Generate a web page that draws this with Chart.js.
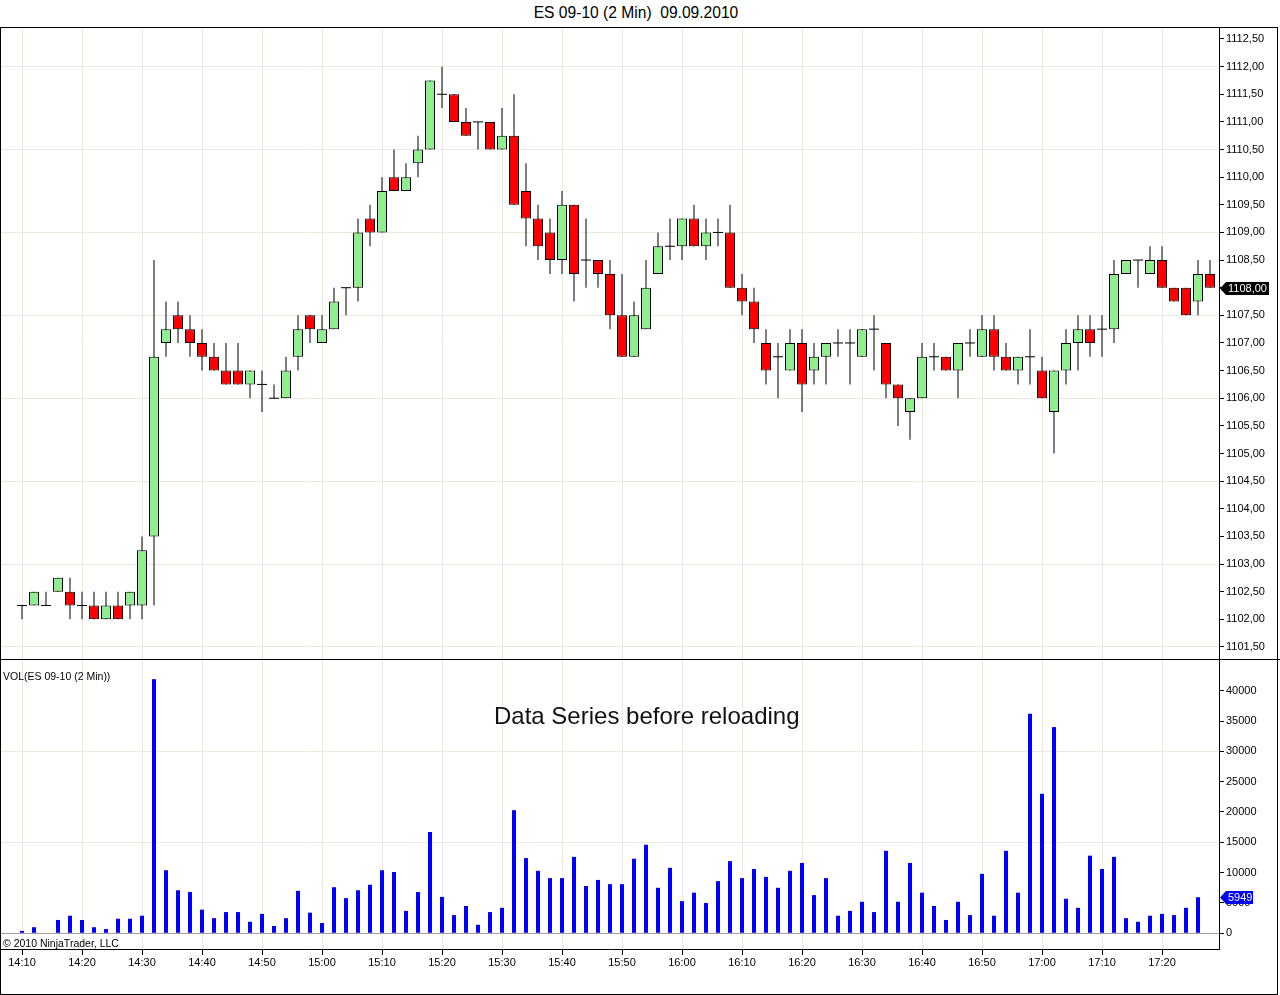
<!DOCTYPE html>
<html>
<head>
<meta charset="utf-8">
<script src="https://cdn.jsdelivr.net/npm/chart.js@4.4.1/dist/chart.umd.min.js"></script>
<style>
  body { margin: 0; background: #fff; width: 1280px; height: 995px; position: relative; overflow: hidden; font-family: Arial, "Liberation Sans", sans-serif; }
  canvas { position: absolute; }
  .txt { position: absolute; white-space: nowrap; color: #000; }
  .line { position: absolute; background: #000; }
</style>
</head>
<body>
<div class="txt" style="left:0;width:1272px;text-align:center;top:5px;font-size:15.6px;line-height:15.6px;">ES 09-10 (2 Min)&nbsp; 09.09.2010</div>
<canvas id="price" width="1279" height="631" style="left:1px;top:28px;"></canvas>
<canvas id="volume" width="1279" height="334" style="left:1px;top:660px;"></canvas>
<div class="line" style="left:0;top:659px;width:1280px;height:1px;"></div>
<div style="position:absolute;left:0;top:27px;width:1278px;height:968px;box-sizing:border-box;border:1px solid #000;pointer-events:none;"></div>
<div class="txt" style="left:3px;top:671px;font-size:10.5px;line-height:10.5px;">VOL(ES 09-10 (2 Min))</div>
<div class="txt" style="left:494px;top:704px;font-size:24px;line-height:24px;color:#111;">Data Series before reloading</div>
<div class="txt" style="left:3px;top:938px;font-size:10.5px;line-height:10.5px;">© 2010 NinjaTrader, LLC</div>
<script>
// 2 min bars, 14:10 .. 17:28
const opens = [
  1102.25, 1102.25, 1102.25, 1102.5, 1102.5, 1102.25, 1102.25, 1102.0, 1102.25, 1102.25,
  1102.25, 1103.5, 1107.0, 1107.5, 1107.25, 1107.0, 1106.75, 1106.5, 1106.5, 1106.25,
  1106.25, 1106.0, 1106.0, 1106.75, 1107.5, 1107.0, 1107.25, 1108.0, 1108.0, 1109.25,
  1109.0, 1110.0, 1109.75, 1110.25, 1110.5, 1111.5, 1111.5, 1111.0, 1111.0, 1111.0,
  1110.5, 1110.75, 1109.75, 1109.25, 1109.0, 1108.5, 1109.5, 1108.5, 1108.5, 1108.25,
  1107.5, 1106.75, 1107.25, 1108.25, 1108.75, 1108.75, 1109.25, 1108.75, 1109.0, 1109.0,
  1108.0, 1107.75, 1107.0, 1106.75, 1106.5, 1107.0, 1106.5, 1106.75, 1107.0, 1107.0,
  1106.75, 1107.25, 1107.0, 1106.25, 1105.75, 1106.0, 1106.75, 1106.75, 1106.5, 1107.0,
  1106.75, 1107.25, 1106.75, 1106.5, 1106.75, 1106.5, 1105.75, 1106.5, 1107.0, 1107.25,
  1107.25, 1107.25, 1108.25, 1108.5, 1108.25, 1108.5, 1108.0, 1108.0, 1107.75, 1108.25
];
const highs = [
  1102.25, 1102.5, 1102.5, 1102.75, 1102.75, 1102.5, 1102.5, 1102.5, 1102.5, 1102.5,
  1103.5, 1108.5, 1107.75, 1107.75, 1107.5, 1107.25, 1107.0, 1107.0, 1107.0, 1106.5,
  1106.5, 1106.25, 1106.75, 1107.5, 1107.5, 1107.5, 1108.0, 1108.0, 1109.25, 1109.5,
  1110.0, 1110.5, 1110.25, 1110.75, 1111.75, 1112.0, 1111.5, 1111.25, 1111.0, 1111.0,
  1111.25, 1111.5, 1110.25, 1109.5, 1109.25, 1109.75, 1109.5, 1109.25, 1108.5, 1108.5,
  1108.25, 1107.75, 1108.5, 1109.0, 1109.25, 1109.25, 1109.5, 1109.25, 1109.25, 1109.5,
  1108.25, 1108.0, 1107.25, 1107.0, 1107.25, 1107.25, 1107.0, 1107.0, 1107.25, 1107.25,
  1107.25, 1107.5, 1107.0, 1106.25, 1106.0, 1107.0, 1107.0, 1106.75, 1107.0, 1107.25,
  1107.5, 1107.5, 1107.0, 1106.75, 1107.25, 1106.75, 1106.5, 1107.25, 1107.5, 1107.5,
  1107.5, 1108.5, 1108.5, 1108.5, 1108.75, 1108.75, 1108.0, 1108.0, 1108.5, 1108.5
];
const lows = [
  1102.0, 1102.25, 1102.25, 1102.5, 1102.0, 1102.0, 1102.0, 1102.0, 1102.0, 1102.0,
  1102.0, 1102.25, 1106.75, 1107.0, 1106.75, 1106.5, 1106.5, 1106.25, 1106.25, 1106.0,
  1105.75, 1106.0, 1106.0, 1106.5, 1107.0, 1107.0, 1107.25, 1107.5, 1107.75, 1108.75,
  1109.0, 1109.75, 1109.75, 1110.0, 1110.5, 1111.25, 1111.0, 1110.75, 1110.5, 1110.5,
  1110.5, 1109.5, 1108.75, 1108.5, 1108.25, 1108.25, 1107.75, 1108.0, 1108.0, 1107.25,
  1106.75, 1106.75, 1107.25, 1108.25, 1108.5, 1108.5, 1108.75, 1108.5, 1108.75, 1108.0,
  1107.5, 1107.0, 1106.25, 1106.0, 1106.5, 1105.75, 1106.25, 1106.25, 1106.75, 1106.25,
  1106.75, 1106.5, 1106.0, 1105.5, 1105.25, 1106.0, 1106.5, 1106.5, 1106.0, 1106.75,
  1106.75, 1106.5, 1106.5, 1106.25, 1106.25, 1106.0, 1105.0, 1106.25, 1106.5, 1106.75,
  1106.75, 1107.0, 1108.25, 1108.0, 1108.25, 1108.0, 1107.75, 1107.5, 1107.5, 1108.0
];
const closes = [
  1102.25, 1102.5, 1102.25, 1102.75, 1102.25, 1102.25, 1102.0, 1102.25, 1102.0, 1102.5,
  1103.25, 1106.75, 1107.25, 1107.25, 1107.0, 1106.75, 1106.5, 1106.25, 1106.25, 1106.5,
  1106.25, 1106.0, 1106.5, 1107.25, 1107.25, 1107.25, 1107.75, 1108.0, 1109.0, 1109.0,
  1109.75, 1109.75, 1110.0, 1110.5, 1111.75, 1111.5, 1111.0, 1110.75, 1111.0, 1110.5,
  1110.75, 1109.5, 1109.25, 1108.75, 1108.5, 1109.5, 1108.25, 1108.5, 1108.25, 1107.5,
  1106.75, 1107.5, 1108.0, 1108.75, 1108.75, 1109.25, 1108.75, 1109.0, 1109.0, 1108.0,
  1107.75, 1107.25, 1106.5, 1106.75, 1107.0, 1106.25, 1106.75, 1107.0, 1107.0, 1107.0,
  1107.25, 1107.25, 1106.25, 1106.0, 1106.0, 1106.75, 1106.75, 1106.5, 1107.0, 1107.0,
  1107.25, 1106.75, 1106.5, 1106.75, 1106.75, 1106.0, 1106.5, 1107.0, 1107.25, 1107.0,
  1107.25, 1108.25, 1108.5, 1108.5, 1108.5, 1108.0, 1107.75, 1107.5, 1108.25, 1108.0
];
// last bar has no volume yet (before reloading)
const volumes = [
  400, 1000, 0, 2200, 2900, 2200, 1000, 700, 2400, 2400,
  2900, 41900, 10400, 7100, 6800, 3900, 2500, 3500, 3500, 1900,
  3200, 1200, 2500, 7000, 3400, 1700, 7600, 5800, 7100, 8000,
  10400, 10100, 3700, 6800, 16700, 6000, 3000, 4500, 1400, 3500,
  4200, 20300, 12400, 10300, 9100, 9100, 12600, 7800, 8800, 8100,
  8100, 12300, 14600, 7500, 10800, 5300, 6700, 5000, 8600, 11900,
  9100, 10600, 9300, 7500, 10300, 11600, 6300, 9100, 2900, 3700,
  5200, 3500, 13600, 5200, 11600, 6700, 4500, 2200, 5200, 3000,
  9800, 2900, 13600, 6700, 36200, 23000, 34000, 5700, 4200, 12800,
  10600, 12600, 2500, 1900, 2900, 3200, 3000, 4200, 5949, null
];
const timeLabels = ['14:10', '14:20', '14:30', '14:40', '14:50', '15:00', '15:10', '15:20', '15:30', '15:40',
  '15:50', '16:00', '16:10', '16:20', '16:30', '16:40', '16:50', '17:00', '17:10', '17:20'];
const priceTicks = [1101.5, 1102, 1102.5, 1103, 1103.5, 1104, 1104.5, 1105, 1105.5, 1106, 1106.5, 1107,
  1107.5, 1108, 1108.5, 1109, 1109.5, 1110, 1110.5, 1111, 1111.5, 1112, 1112.5];
const volumeTicks = [0, 5000, 10000, 15000, 20000, 25000, 30000, 35000, 40000];

const GRID = '#ebe8e0';
Chart.defaults.font.family = 'Arial, "Liberation Sans", sans-serif';
Chart.defaults.font.size = 11;
Chart.defaults.color = '#000';

const noPad = (a) => { a.paddingTop = 0; a.paddingBottom = 0; a.paddingLeft = 0; a.paddingRight = 0; };

const xTicks = timeLabels.map((t, k) => k * 5);
const xAxis = (showLabels) => ({
  type: 'linear',
  offset: false,
  min: -1.75,
  max: 99.75,
  afterBuildTicks: (a) => { a.ticks = xTicks.map(v => ({ value: v })); },
  ticks: {
    display: showLabels,
    maxRotation: 0,
    autoSkip: false,
    padding: 1,
    callback: (v) => timeLabels[v / 5]
  },
  grid: { offset: false, color: GRID, drawTicks: showLabels, tickLength: 6, tickColor: '#000' },
  border: { display: showLabels, color: '#000' },
  afterFit: (a) => { a.height = showLabels ? 45 : 0; noPad(a); }
});

// little value tag at the right axis (last price / last volume)
const lastTag = {
  id: 'lastTag',
  afterDraw(chart, args, opts) {
    const { ctx, chartArea } = chart;
    const y = Math.round(chart.scales.y.getPixelForValue(opts.value)) + 0.5;
    const x = chartArea.right + 1;
    ctx.save();
    ctx.fillStyle = opts.color;
    ctx.beginPath();
    ctx.moveTo(x, y);
    ctx.lineTo(x + 6, y - 6.5);
    ctx.lineTo(x + opts.width, y - 6.5);
    ctx.lineTo(x + opts.width, y + 6.5);
    ctx.lineTo(x + 6, y + 6.5);
    ctx.closePath();
    ctx.fill();
    ctx.fillStyle = '#fff';
    ctx.font = '11px Arial, "Liberation Sans", sans-serif';
    ctx.textBaseline = 'middle';
    ctx.fillText(opts.text, x + 8, y + 0.5);
    ctx.restore();
  }
};

const fmtPrice = (v) => v.toFixed(2).replace('.', ',');

const wickData = [];
const bodyData = [];
const bodyColors = [];
const dojiData = [];
opens.forEach((o, i) => {
  wickData.push({ x: i, y: [lows[i], highs[i]] });
  if (o === closes[i]) {
    dojiData.push({ x: i, y: o });
  } else {
    bodyData.push({ x: i, y: [o, closes[i]] });
    bodyColors.push(closes[i] > o ? '#90ee90' : '#ff0000');
  }
});

new Chart(document.getElementById('price'), {
  type: 'bar',
  data: {
    datasets: [
      { data: wickData, backgroundColor: '#000', barThickness: 1, inflateAmount: 0, order: 3 },
      { data: bodyData, backgroundColor: bodyColors, borderColor: '#000', borderWidth: 1,
        borderSkipped: false, barThickness: 10, inflateAmount: 0, order: 1 },
      { type: 'scatter', data: dojiData, pointStyle: 'line', pointRadius: 5, pointHoverRadius: 5,
        borderColor: '#000', borderWidth: 1, order: 2 }
    ]
  },
  options: {
    responsive: false,
    animation: false,
    devicePixelRatio: 1,
    layout: { padding: 0, autoPadding: false },
    datasets: { bar: { grouped: false } },
    plugins: {
      legend: { display: false },
      tooltip: { enabled: false },
      lastTag: { value: closes[closes.length - 1], text: fmtPrice(closes[closes.length - 1]), color: '#000', width: 49 }
    },
    scales: {
      x: xAxis(false),
      y: {
        position: 'right',
        min: 1101.282,
        max: 1112.699,
        afterBuildTicks: (a) => { a.ticks = priceTicks.map(v => ({ value: v })); },
        ticks: { padding: 2, autoSkip: false, callback: (v) => fmtPrice(v) },
        grid: {
          color: (c) => {
            const k = (c.tick.value - 1101.5) / 1.5;
            return Math.abs(k - Math.round(k)) < 1e-6 ? GRID : 'rgba(0,0,0,0)';
          },
          tickColor: '#000',
          tickLength: 5
        },
        border: { color: '#000' },
        afterFit: (a) => { a.width = 61; noPad(a); }
      }
    }
  },
  plugins: [lastTag]
});

const lastVol = volumes.filter(v => v !== null).pop();

new Chart(document.getElementById('volume'), {
  type: 'bar',
  data: {
    datasets: [
      { data: volumes.map((v, i) => ({ x: i, y: v })), backgroundColor: '#0000ff',
        barThickness: 4, inflateAmount: 0 }
    ]
  },
  options: {
    responsive: false,
    animation: false,
    devicePixelRatio: 1,
    layout: { padding: 0, autoPadding: false },
    plugins: {
      legend: { display: false },
      tooltip: { enabled: false },
      lastTag: { value: lastVol, text: String(lastVol), color: '#0000ff', width: 33 }
    },
    scales: {
      x: xAxis(true),
      y: {
        position: 'right',
        min: -2589,
        max: 45062,
        afterBuildTicks: (a) => { a.ticks = volumeTicks.map(v => ({ value: v })); },
        ticks: { padding: 2, autoSkip: false, callback: (v) => String(v) },
        grid: {
          color: (c) => c.tick.value === 0 ? '#a0a0a0' : (c.tick.value % 15000 === 0 ? GRID : 'rgba(0,0,0,0)'),
          tickColor: '#000',
          tickLength: 5
        },
        border: { color: '#000' },
        afterFit: (a) => { a.width = 61; noPad(a); }
      }
    }
  },
  plugins: [lastTag]
});
</script>
</body>
</html>
